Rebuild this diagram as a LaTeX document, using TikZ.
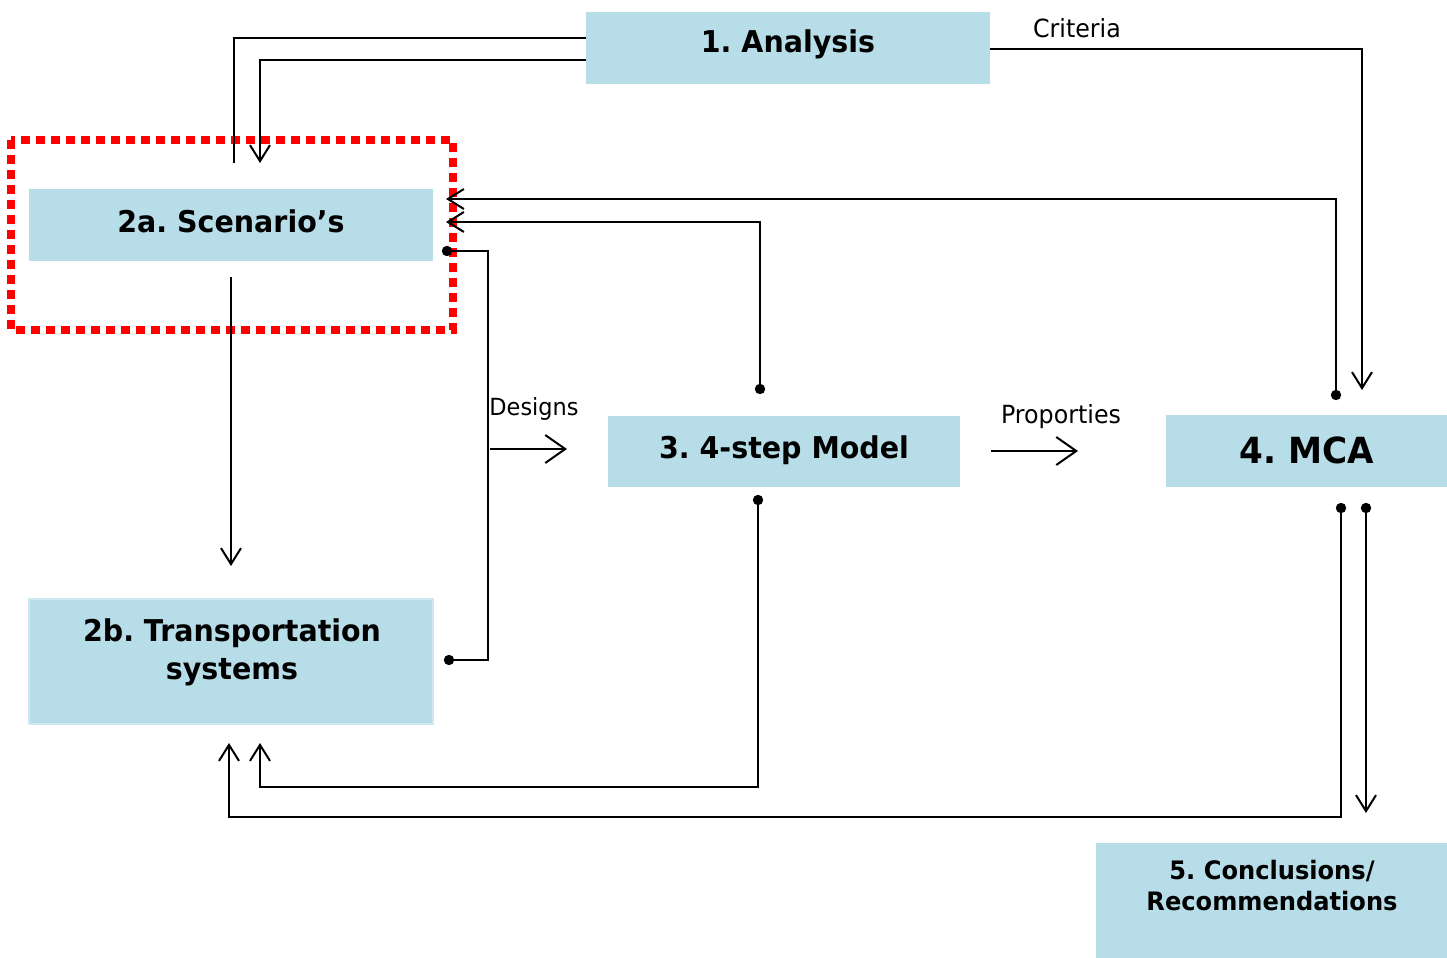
\documentclass[tikz,border=0pt]{standalone}
\usepackage{fontspec}
\setmainfont{DejaVu Sans}[FakeStretch=0.95]
\usetikzlibrary{arrows.meta,calc}
\definecolor{boxblue}{HTML}{B7DDE8}
\definecolor{boxedge}{HTML}{CDE8F0}
\frenchspacing
\begin{document}
\begin{tikzpicture}[x=0.5pt,y=-0.5pt,
  box/.style={fill=boxblue, draw=none, inner sep=0pt, text height=9pt, text depth=2pt, font=\bfseries\fontsize{15}{18}\selectfont},
  lbl/.style={inner sep=0pt, font=\fontsize{12.5}{15}\selectfont},
  conn/.style={line width=1pt, draw=black},
  arr/.style={conn, -{Straight Barb[length=8pt,width=10pt,line width=1pt]}},
  harr/.style={conn, -{Straight Barb[length=10pt,width=14pt,line width=1pt]}},
  dot/.style={fill=black}
]
\useasboundingbox[fill=white] (0,0) rectangle (1447,958);

% boxes
\node[box, text height=8pt, text depth=3.5pt, minimum width=202pt, minimum height=36pt] (ana) at (788,48) {1. Analysis};
\node[box, minimum width=202pt, minimum height=36pt] (scen) at (231,225) {2a. Scenario’s};
\node[box, draw=boxedge, line width=1pt, minimum width=202pt, minimum height=62.5pt] (trans) at (231,661.5) {};
\node[box, text height=, text depth=, align=center, font=\bfseries\fontsize{15}{19}\selectfont] (transtxt) at (232,652) {2b. Transportation\\systems};
\node[box, minimum width=176pt, minimum height=35.5pt] (model) at (784,451.5) {3. 4-step Model};
\node[box, text height=12.1pt, text depth=0pt, minimum width=140.5pt, minimum height=36pt, font=\bfseries\fontsize{18}{21}\selectfont] (mca) at (1306.5,451) {4. MCA};
\node[box, minimum width=175.5pt, minimum height=57.5pt] (concl) at (1271.5,900.5) {};
\node[box, text height=, text depth=, align=center, font=\bfseries\fontsize{12.7}{15.5}\selectfont] (concltxt) at (1272,885.5) {5. Conclusions/\\Recommendations};

% red dotted frame
\draw[red, line width=4pt, dash pattern=on 4.5pt off 3pt] (11,140) rectangle (453,330);

% labels
\node[lbl] (crit) at (1077,28) {Criteria};
\node[lbl, font=\fontsize{11.8}{14}\selectfont] (des) at (534,409) {Designs};
\node[lbl] (prop) at (1061,417) {Proporties};

% coordinates
\coordinate (cA1) at (234,163);
\coordinate (cA2) at (260,163);
\coordinate (cCrit) at (1362,390);
\coordinate (dMcaTop) at (1336,395);
\coordinate (cScen1) at (446,199);
\coordinate (dModTop) at (760,389);
\coordinate (cScen2) at (446,222);
\coordinate (dScenR) at (447,251);
\coordinate (cBus) at (488,660);
\coordinate (dTransR) at (449,660);
\coordinate (cDesA) at (490,449);
\coordinate (cDesB) at (567,449);
\coordinate (cScenD1) at (231,277);
\coordinate (cScenD2) at (231,566);
\coordinate (dModBot) at (758,500);
\coordinate (cCornA) at (260,787);
\coordinate (cTransA) at (260,743);
\coordinate (dMcaB1) at (1341,508);
\coordinate (cCornB) at (229,817);
\coordinate (cTransB) at (229,743);
\coordinate (dMcaB2) at (1366,508);
\coordinate (cConcl) at (1366,813);
\coordinate (cPropA) at (991,451);
\coordinate (cPropB) at (1078,451);

% connectors
\draw[conn] ($(ana.west)+(0,-10)$) -| (cA1);
\draw[arr] ($(ana.west)+(0,12)$) -| (cA2);
\draw[arr] ($(ana.east)+(0,1)$) -| (cCrit);
\draw[arr] (dMcaTop) |- (cScen1);
\draw[arr] (dModTop) |- (cScen2);
\draw[conn] (dScenR) -| (cBus) -- (dTransR);
\draw[harr] (cDesA) -- (cDesB);
\draw[arr] (cScenD1) -- (cScenD2);
\draw[arr] (dModBot) |- (cCornA) -- (cTransA);
\draw[arr] (dMcaB1) |- (cCornB) -- (cTransB);
\draw[arr] (dMcaB2) -- (cConcl);
\draw[harr] (cPropA) -- (cPropB);

% dots
\foreach \p in {dMcaTop,dModTop,dScenR,dTransR,dModBot,dMcaB1,dMcaB2}
  \fill[dot] (\p) circle[radius=2.6pt];
\end{tikzpicture}
\end{document}
